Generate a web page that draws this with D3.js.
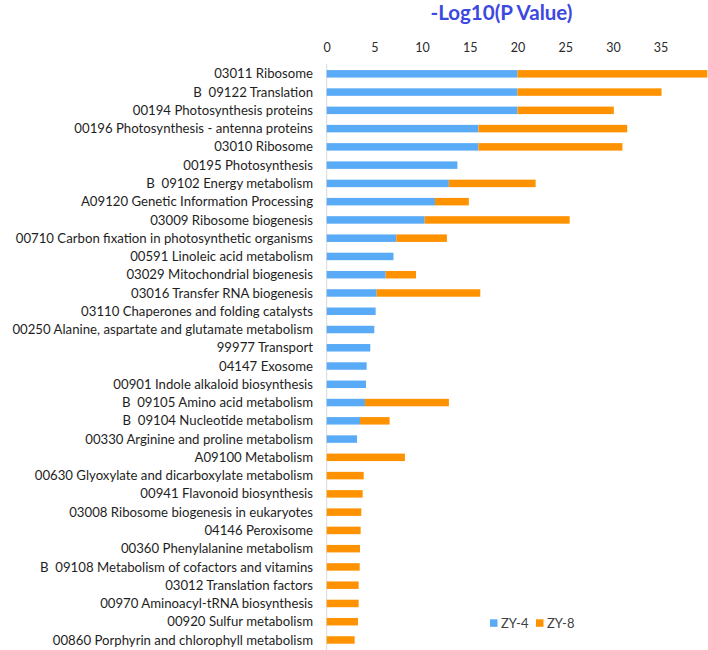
<!DOCTYPE html>
<html><head><meta charset="utf-8">
<script src="https://cdn.jsdelivr.net/npm/d3@7"></script>
<style>body{margin:0;background:#fff;}svg{display:block;} text{white-space:pre;}</style>
</head><body>
<svg id="chart" width="708" height="650"></svg>
<script>
const categories = [
"03011 Ribosome","B  09122 Translation","00194 Photosynthesis proteins","00196 Photosynthesis - antenna proteins",
"03010 Ribosome","00195 Photosynthesis","B  09102 Energy metabolism","A09120 Genetic Information Processing",
"03009 Ribosome biogenesis","00710 Carbon fixation in photosynthetic organisms","00591 Linoleic acid metabolism",
"03029 Mitochondrial biogenesis","03016 Transfer RNA biogenesis","03110 Chaperones and folding catalysts",
"00250 Alanine, aspartate and glutamate metabolism","99977 Transport","04147 Exosome","00901 Indole alkaloid biosynthesis",
"B  09105 Amino acid metabolism","B  09104 Nucleotide metabolism","00330 Arginine and proline metabolism",
"A09100 Metabolism","00630 Glyoxylate and dicarboxylate metabolism","00941 Flavonoid biosynthesis",
"03008 Ribosome biogenesis in eukaryotes","04146 Peroxisome","00360 Phenylalanine metabolism",
"B  09108 Metabolism of cofactors and vitamins","03012 Translation factors","00970 Aminoacyl-tRNA biosynthesis",
"00920 Sulfur metabolism","00860 Porphyrin and chlorophyll metabolism"];
const zy4 = [20,20,20,15.9,15.9,13.7,12.8,11.35,10.27,7.3,7.0,6.18,5.24,5.13,4.99,4.57,4.19,4.12,4.01,3.49,3.18,0,0,0,0,0,0,0,0,0,0,0];
const zy8 = [19.9,15.1,10.1,15.6,15.1,0,9.1,3.55,15.2,5.3,0,3.18,10.86,0,0,0,0,0,8.8,3.1,0,8.2,3.88,3.77,3.63,3.56,3.49,3.46,3.35,3.35,3.28,2.93];
const seriesNames = ["ZY-4","ZY-8"];
const seriesColors = ["#5aabf7","#ff9200"];
const tickValues = [0,5,10,15,20,25,30,35];
const axisTitle = "-Log10(P Value)";

const svg = d3.select("#chart");
const font = "Lato, 'Open Sans', sans-serif";
const x0 = 326.7, x1 = 708.3;
const x = d3.scaleLinear().domain([0,40]).range([x0,x1]);
const y = d3.scaleBand().domain(categories).range([64.6, 649.2]).paddingInner(0.59).paddingOuter(0.3);

const rows = categories.map((c,i)=>({cat:c, a:zy4[i], b:zy8[i]}));
const stack = d3.stack().keys(["a","b"])(rows);

svg.append("line").attr("x1",x0).attr("x2",x0).attr("y1",64).attr("y2",650)
  .attr("stroke","#d9d9d9").attr("stroke-width",1);

stack.forEach((layer,li)=>{
  svg.append("g").selectAll("rect").data(layer).join("rect")
    .attr("x",d=>x(d[0])).attr("width",d=>Math.max(0,x(d[1])-x(d[0])))
    .attr("y",d=>y(d.data.cat)).attr("height",y.bandwidth())
    .attr("fill",seriesColors[li]);
});

// category labels
svg.append("g").selectAll("text").data(categories).join("text")
  .attr("x",313).attr("y",d=>y(d)+y.bandwidth()/2).attr("dy","0.35em")
  .attr("text-anchor","end").attr("font-family",font).attr("font-size",13.2)
  .attr("fill","#1e1e1e").text(d=>d);

// top axis
const axis = d3.axisTop(x).tickValues(tickValues).tickSize(0).tickPadding(0);
const ag = svg.append("g").attr("transform","translate(0,51.5)").call(axis);
ag.select(".domain").remove();
ag.selectAll("text").attr("font-family",font).attr("font-size",12.5).attr("fill","#2a2a2a");

svg.append("text").attr("x",501.5).attr("y",20).attr("text-anchor","middle")
  .attr("font-family",font).attr("font-weight","bold").attr("font-size",20.5)
  .attr("fill","#3d48e0").text(axisTitle);

// legend
const lg = svg.append("g").attr("transform","translate(490,623)");
seriesNames.forEach((n,i)=>{
  const g = lg.append("g").attr("transform",`translate(${i*46},0)`);
  g.append("rect").attr("x",0).attr("y",-3.7).attr("width",7.5).attr("height",7.5).attr("fill",seriesColors[i]);
  g.append("text").attr("x",11).attr("y",0).attr("dy","0.35em").attr("font-family",font)
    .attr("font-size",13).attr("fill","#404040").text(n);
});
</script>
</body></html>
